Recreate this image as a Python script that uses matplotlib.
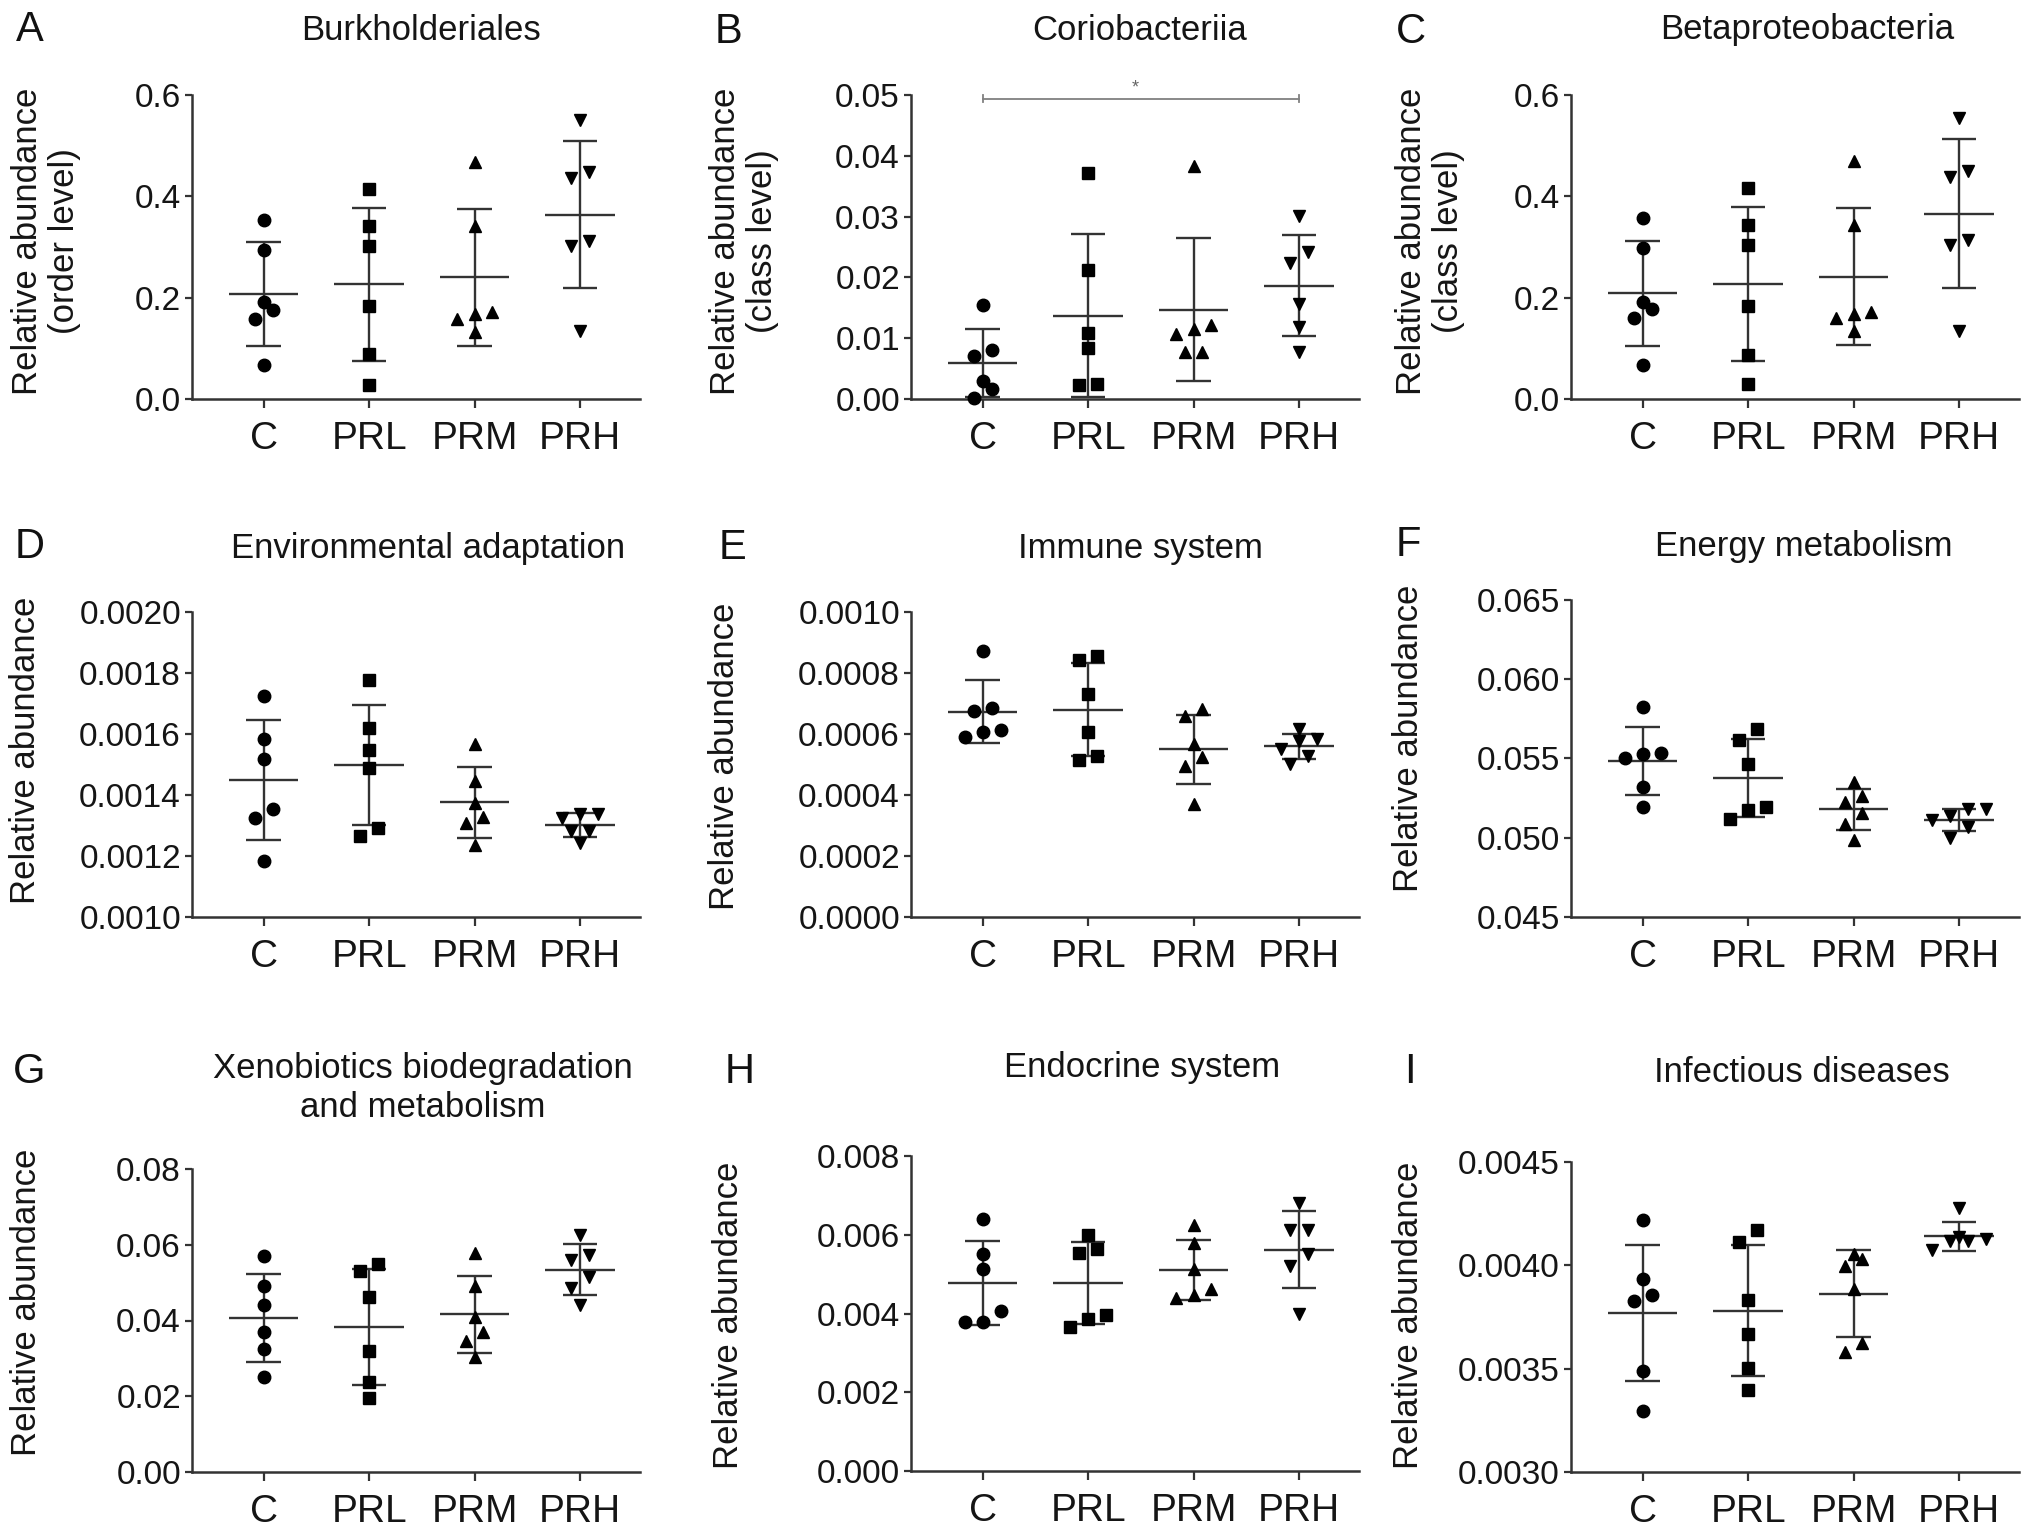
import numpy as np
import matplotlib
matplotlib.use('Agg')
import matplotlib.pyplot as plt

plt.rcParams['font.family'] = ['Liberation Sans', 'DejaVu Sans']

W, H = 2031, 1530

groups = ['C', 'PRL', 'PRM', 'PRH']
markers = ['o', 's', '^', 'v']

# values, one list per group (C, PRL, PRM, PRH)
burkholderiales = [
    [0.354, 0.295, 0.191, 0.176, 0.157, 0.067],
    [0.415, 0.341, 0.301, 0.183, 0.088, 0.028],
    [0.468, 0.341, 0.171, 0.168, 0.158, 0.133],
    [0.551, 0.448, 0.436, 0.312, 0.302, 0.135],
]
coriobacteriia = [
    [0.0155, 0.0080, 0.0070, 0.0029, 0.0016, 0.0002],
    [0.0372, 0.0212, 0.0108, 0.0084, 0.0025, 0.0023],
    [0.0384, 0.0122, 0.0115, 0.0107, 0.0077, 0.0077],
    [0.0301, 0.0242, 0.0224, 0.0156, 0.0119, 0.0078],
]
betaproteobacteria = [
    [0.357, 0.299, 0.192, 0.177, 0.160, 0.068],
    [0.417, 0.344, 0.303, 0.184, 0.086, 0.029],
    [0.470, 0.344, 0.171, 0.168, 0.160, 0.134],
    [0.554, 0.450, 0.438, 0.314, 0.303, 0.134],
]
env_adaptation = [
    [0.001725, 0.001582, 0.001519, 0.001354, 0.001324, 0.001185],
    [0.001778, 0.001621, 0.001547, 0.001489, 0.001291, 0.001266],
    [0.001566, 0.001445, 0.001374, 0.001327, 0.001308, 0.001236],
    [0.001338, 0.001338, 0.001325, 0.001282, 0.001282, 0.001242],
]
immune_system = [
    [0.000872, 0.000686, 0.000674, 0.000612, 0.000607, 0.000590],
    [0.000856, 0.000842, 0.000732, 0.000607, 0.000527, 0.000514],
    [0.000681, 0.000658, 0.000568, 0.000525, 0.000494, 0.000372],
    [0.000615, 0.000585, 0.000578, 0.000552, 0.000528, 0.000502],
]
energy_metabolism = [
    [0.05822, 0.05536, 0.05527, 0.05500, 0.05321, 0.05195],
    [0.05685, 0.05616, 0.05468, 0.05195, 0.05178, 0.05121],
    [0.05353, 0.05262, 0.05226, 0.05153, 0.05089, 0.04988],
    [0.0518, 0.0518, 0.0514, 0.0511, 0.0507, 0.0500],
]
xenobiotics = [
    [0.0569, 0.0490, 0.0441, 0.0369, 0.0324, 0.0250],
    [0.0549, 0.0532, 0.0463, 0.0319, 0.0238, 0.0196],
    [0.0578, 0.0490, 0.0410, 0.0370, 0.0347, 0.0303],
    [0.0627, 0.0574, 0.0560, 0.0516, 0.0486, 0.0440],
]
endocrine = [
    [0.00640, 0.00550, 0.00512, 0.00407, 0.00379, 0.00379],
    [0.00599, 0.00563, 0.00554, 0.00396, 0.00387, 0.00366],
    [0.00625, 0.00580, 0.00512, 0.00462, 0.00447, 0.00440],
    [0.00680, 0.00612, 0.00612, 0.00550, 0.00520, 0.00398],
]
infectious = [
    [0.004221, 0.003935, 0.003855, 0.003826, 0.003489, 0.003295],
    [0.004169, 0.004113, 0.003831, 0.003669, 0.003505, 0.003398],
    [0.004056, 0.004032, 0.003995, 0.003887, 0.003624, 0.003581],
    [0.004278, 0.004137, 0.004126, 0.004116, 0.004116, 0.004075],
]

# y ticks of every panel
ticks_a = [0.0, 0.2, 0.4, 0.6]
ticks_b = [0.00, 0.01, 0.02, 0.03, 0.04, 0.05]
ticks_d = [0.0010, 0.0012, 0.0014, 0.0016, 0.0018, 0.0020]
ticks_e = [0.0000, 0.0002, 0.0004, 0.0006, 0.0008, 0.0010]
ticks_f = [0.045, 0.050, 0.055, 0.060, 0.065]
ticks_g = [0.00, 0.02, 0.04, 0.06, 0.08]
ticks_h = [0.000, 0.002, 0.004, 0.006, 0.008]
ticks_i = [0.0030, 0.0035, 0.0040, 0.0045]

# letter, title, ylabel, data, ticks, decimals,
# axes (left, top, bottom px), letter xy, title xy, ylabel xy
panels = [
    ('A', 'Burkholderiales', 'Relative abundance\n(order level)', burkholderiales, ticks_a, 1,
     (192, 95, 399), (30, 30), (421, 30), (46, 241)),
    ('B', 'Coriobacteriia', 'Relative abundance\n(class level)', coriobacteriia, ticks_b, 2,
     (911, 95, 399), (728, 32), (1140, 30), (744, 241)),
    ('C', 'Betaproteobacteria', 'Relative abundance\n(class level)', betaproteobacteria, ticks_a, 1,
     (1571, 95, 399), (1411, 32), (1807, 30), (1430, 241)),
    ('D', 'Environmental adaptation', 'Relative abundance', env_adaptation, ticks_d, 4,
     (192, 612, 917), (30, 547), (428, 548), (26, 750)),
    ('E', 'Immune system', 'Relative abundance', immune_system, ticks_e, 4,
     (911, 612, 917), (733, 548), (1140, 548), (725, 756)),
    ('F', 'Energy metabolism', 'Relative abundance', energy_metabolism, ticks_f, 3,
     (1571, 600, 917), (1408, 545), (1804, 546), (1408, 738)),
    ('G', 'Xenobiotics biodegradation\nand metabolism', 'Relative abundance', xenobiotics, ticks_g, 2,
     (192, 1169, 1472), (29, 1072), (423, 1088), (27, 1302)),
    ('H', 'Endocrine system', 'Relative abundance', endocrine, ticks_h, 3,
     (911, 1156, 1471), (740, 1072), (1142, 1067), (728, 1315)),
    ('I', 'Infectious diseases', 'Relative abundance', infectious, ticks_i, 4,
     (1571, 1162, 1472), (1410, 1072), (1802, 1073), (1408, 1315)),
]

AX_W = 448
XLIM = (-0.68, 3.57)
LC = '#333333'
TC = '#151515'
LW = 1.7


def swarm(vals, px_per_val, thr=12.0, step=0.17):
    # spread points that sit at nearly the same height side by side
    order = np.argsort(vals)
    offs = np.zeros(len(vals))
    rows, row = [], [order[0]]
    for i in order[1:]:
        if (vals[i] - vals[row[0]]) * px_per_val < thr:
            row.append(i)
        else:
            rows.append(row)
            row = [i]
    rows.append(row)
    for r in rows:
        n = len(r)
        for k, i in enumerate(r):
            offs[i] = (k - (n - 1) / 2) * step
    return offs


fig = plt.figure(figsize=(W / 100, H / 100), dpi=100)
fig.patch.set_facecolor('white')

for letter, title, ylabel, data, ticks, dec, (left, top, bottom), lxy, txy, yxy in panels:
    ax = fig.add_axes([left / W, 1 - bottom / H, AX_W / W, (bottom - top) / H])
    ymin, ymax = ticks[0], ticks[-1]
    ax.set_xlim(*XLIM)
    ax.set_ylim(ymin, ymax)
    px_per = (bottom - top) / (ymax - ymin)

    for i, vals in enumerate(data):
        vals = np.asarray(vals, dtype=float)
        offs = swarm(vals, px_per)
        ax.plot(i + offs, vals, linestyle='none', marker=markers[i], ms=9,
                color='black', mec='black', clip_on=False, zorder=3)
        m = vals.mean()
        s = vals.std(ddof=1)
        ax.hlines(m, i - 0.33, i + 0.33, color=LC, lw=LW, zorder=2)
        ax.vlines(i, m - s, m + s, color=LC, lw=LW, zorder=2)
        ax.hlines([m - s, m + s], i - 0.165, i + 0.165, color=LC, lw=LW, zorder=2)

    ax.spines['top'].set_visible(False)
    ax.spines['right'].set_visible(False)
    for sp in ('left', 'bottom'):
        ax.spines[sp].set_linewidth(1.8)
        ax.spines[sp].set_color(LC)

    ax.set_yticks(ticks)
    ax.set_yticklabels([f'{t:.{dec}f}' for t in ticks])
    ax.set_xticks(range(len(groups)))
    ax.set_xticklabels(groups)
    ax.tick_params(axis='y', length=5, width=1.6, pad=3, labelsize=24,
                   color=LC, labelcolor=TC)
    ax.tick_params(axis='x', length=6.5, width=1.6, pad=9, labelsize=28,
                   color=LC, labelcolor=TC)

    if letter == 'B':
        yb = 0.0494
        ax.plot([0, 3], [yb, yb], color='#808080', lw=1.3, clip_on=False)
        for xe in (0, 3):
            ax.plot([xe, xe], [yb - 0.0006, yb + 0.0006], color='#808080', lw=1.3, clip_on=False)
        ax.text(1.45, yb + 0.0004, '*', ha='center', va='bottom', fontsize=13, color='#666666')

    fig.text(lxy[0] / W, 1 - lxy[1] / H, letter, ha='center', va='center',
             fontsize=30, color='#111111')
    fig.text(txy[0] / W, 1 - txy[1] / H, title, ha='center', va='center',
             fontsize=25, color=TC, linespacing=1.2)
    fig.text(yxy[0] / W, 1 - yxy[1] / H, ylabel, ha='center', va='center',
             rotation=90, fontsize=25, color=TC, linespacing=1.15)

fig.savefig('out.png', dpi=100, facecolor='white')
